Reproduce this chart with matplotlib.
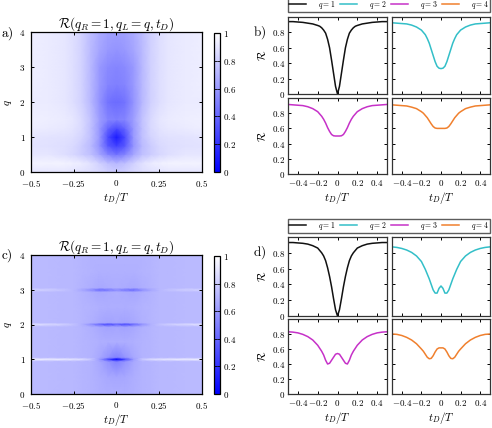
import numpy as np
import matplotlib
matplotlib.use("Agg")
import matplotlib.pyplot as plt
from matplotlib.colors import LinearSegmentedColormap

# ---------------------------------------------------------------------------- #
# DATA

# heatmap grids (t_D/T columns, q rows)
t_map = [-0.5, -0.4, -0.3, -0.25, -0.2, -0.15, -0.1, -0.05, 0.0,
         0.05, 0.1, 0.15, 0.2, 0.25, 0.3, 0.4, 0.5]

q_map_a = [0.0, 0.25, 0.5, 0.75, 1.0, 1.25, 1.5, 2.0, 2.5, 3.0, 3.5, 4.0]
R_map_a = [
    [0.90, 0.90, 0.90, 0.89, 0.88, 0.87, 0.85, 0.82, 0.80, 0.82, 0.85, 0.87, 0.88, 0.89, 0.90, 0.90, 0.90],
    [0.95, 0.95, 0.95, 0.94, 0.92, 0.88, 0.82, 0.75, 0.72, 0.75, 0.82, 0.88, 0.92, 0.94, 0.95, 0.95, 0.95],
    [0.90, 0.90, 0.87, 0.84, 0.80, 0.75, 0.65, 0.52, 0.45, 0.52, 0.65, 0.75, 0.80, 0.84, 0.87, 0.90, 0.90],
    [0.89, 0.88, 0.87, 0.85, 0.80, 0.73, 0.58, 0.35, 0.25, 0.35, 0.58, 0.73, 0.80, 0.85, 0.87, 0.88, 0.89],
    [0.90, 0.89, 0.88, 0.87, 0.83, 0.75, 0.60, 0.30, 0.10, 0.30, 0.60, 0.75, 0.83, 0.87, 0.88, 0.89, 0.90],
    [0.93, 0.92, 0.91, 0.89, 0.85, 0.75, 0.60, 0.40, 0.30, 0.40, 0.60, 0.75, 0.85, 0.89, 0.91, 0.92, 0.93],
    [0.94, 0.93, 0.92, 0.90, 0.85, 0.76, 0.62, 0.52, 0.50, 0.52, 0.62, 0.76, 0.85, 0.90, 0.92, 0.93, 0.94],
    [0.92, 0.92, 0.90, 0.87, 0.82, 0.72, 0.58, 0.45, 0.42, 0.45, 0.58, 0.72, 0.82, 0.87, 0.90, 0.92, 0.92],
    [0.93, 0.92, 0.90, 0.87, 0.82, 0.72, 0.60, 0.52, 0.50, 0.52, 0.60, 0.72, 0.82, 0.87, 0.90, 0.92, 0.93],
    [0.93, 0.92, 0.90, 0.87, 0.82, 0.72, 0.60, 0.54, 0.52, 0.54, 0.60, 0.72, 0.82, 0.87, 0.90, 0.92, 0.93],
    [0.93, 0.92, 0.90, 0.87, 0.82, 0.73, 0.65, 0.60, 0.58, 0.60, 0.65, 0.73, 0.82, 0.87, 0.90, 0.92, 0.93],
    [0.93, 0.92, 0.90, 0.87, 0.82, 0.74, 0.67, 0.63, 0.62, 0.63, 0.67, 0.74, 0.82, 0.87, 0.90, 0.92, 0.93],
]

q_map_c = [0.0, 0.5, 0.94, 1.0, 1.06, 1.5, 1.94, 2.0, 2.06, 2.5, 2.94, 3.0, 3.06, 3.5, 4.0]
R_map_c = [
    [0.73, 0.73, 0.72, 0.72, 0.71, 0.70, 0.69, 0.68, 0.68, 0.68, 0.69, 0.70, 0.71, 0.72, 0.72, 0.73, 0.73],
    [0.73, 0.73, 0.72, 0.72, 0.71, 0.70, 0.68, 0.66, 0.65, 0.66, 0.68, 0.70, 0.71, 0.72, 0.72, 0.73, 0.73],
    [0.73, 0.73, 0.72, 0.72, 0.71, 0.70, 0.66, 0.58, 0.50, 0.58, 0.66, 0.70, 0.71, 0.72, 0.72, 0.73, 0.73],
    [0.93, 0.925, 0.91, 0.89, 0.86, 0.78, 0.61, 0.30, 0.00, 0.30, 0.61, 0.78, 0.86, 0.89, 0.91, 0.925, 0.93],
    [0.73, 0.73, 0.72, 0.72, 0.71, 0.70, 0.66, 0.58, 0.50, 0.58, 0.66, 0.70, 0.71, 0.72, 0.72, 0.73, 0.73],
    [0.73, 0.73, 0.72, 0.72, 0.71, 0.70, 0.69, 0.68, 0.68, 0.68, 0.69, 0.70, 0.71, 0.72, 0.72, 0.73, 0.73],
    [0.73, 0.73, 0.72, 0.72, 0.71, 0.69, 0.66, 0.64, 0.65, 0.64, 0.66, 0.69, 0.71, 0.72, 0.72, 0.73, 0.73],
    [0.875, 0.855, 0.805, 0.76, 0.69, 0.56, 0.40, 0.28, 0.38, 0.28, 0.40, 0.56, 0.69, 0.76, 0.805, 0.855, 0.875],
    [0.73, 0.73, 0.72, 0.72, 0.71, 0.69, 0.66, 0.64, 0.65, 0.64, 0.66, 0.69, 0.71, 0.72, 0.72, 0.73, 0.73],
    [0.73, 0.73, 0.72, 0.72, 0.71, 0.70, 0.69, 0.68, 0.68, 0.68, 0.69, 0.70, 0.71, 0.72, 0.72, 0.73, 0.73],
    [0.73, 0.73, 0.72, 0.72, 0.70, 0.68, 0.66, 0.67, 0.68, 0.67, 0.66, 0.68, 0.70, 0.72, 0.72, 0.73, 0.73],
    [0.83, 0.815, 0.765, 0.72, 0.65, 0.55, 0.40, 0.45, 0.54, 0.45, 0.40, 0.55, 0.65, 0.72, 0.765, 0.815, 0.83],
    [0.73, 0.73, 0.72, 0.72, 0.70, 0.68, 0.66, 0.67, 0.68, 0.67, 0.66, 0.68, 0.70, 0.72, 0.72, 0.73, 0.73],
    [0.73, 0.73, 0.72, 0.72, 0.71, 0.70, 0.69, 0.69, 0.69, 0.69, 0.69, 0.70, 0.71, 0.72, 0.72, 0.73, 0.73],
    [0.73, 0.73, 0.72, 0.72, 0.71, 0.70, 0.70, 0.70, 0.70, 0.70, 0.70, 0.70, 0.71, 0.72, 0.72, 0.73, 0.73],
]

# line cuts, t_D/T
t_line = [-0.5, -0.45, -0.4, -0.35, -0.3, -0.25, -0.2, -0.18, -0.16, -0.14, -0.12,
          -0.1, -0.08, -0.06, -0.04, -0.02, 0.0, 0.02, 0.04, 0.06, 0.08, 0.1,
          0.12, 0.14, 0.16, 0.18, 0.2, 0.25, 0.3, 0.35, 0.4, 0.45, 0.5]

# panel b)
R_b_q1 = [0.94, 0.94, 0.935, 0.93, 0.92, 0.91, 0.89, 0.88, 0.86, 0.83, 0.79, 0.71, 0.60, 0.44, 0.27, 0.10, 0.0,
          0.10, 0.27, 0.44, 0.60, 0.71, 0.79, 0.83, 0.86, 0.88, 0.89, 0.91, 0.92, 0.93, 0.935, 0.94, 0.94]
R_b_q2 = [0.925, 0.92, 0.915, 0.91, 0.895, 0.87, 0.83, 0.80, 0.77, 0.72, 0.66, 0.58, 0.50, 0.42, 0.36, 0.335, 0.33,
          0.335, 0.36, 0.42, 0.50, 0.58, 0.66, 0.72, 0.77, 0.80, 0.83, 0.87, 0.895, 0.91, 0.915, 0.92, 0.925]
R_b_q3 = [0.915, 0.91, 0.905, 0.90, 0.885, 0.86, 0.82, 0.79, 0.76, 0.72, 0.67, 0.61, 0.56, 0.52, 0.503, 0.50, 0.50,
          0.50, 0.503, 0.52, 0.56, 0.61, 0.67, 0.72, 0.76, 0.79, 0.82, 0.86, 0.885, 0.90, 0.905, 0.91, 0.915]
R_b_q4 = [0.91, 0.905, 0.90, 0.895, 0.88, 0.86, 0.82, 0.80, 0.77, 0.74, 0.70, 0.66, 0.625, 0.605, 0.60, 0.60, 0.60,
          0.60, 0.60, 0.605, 0.625, 0.66, 0.70, 0.74, 0.77, 0.80, 0.82, 0.86, 0.88, 0.895, 0.90, 0.905, 0.91]

# panel d)
R_d_q1 = [0.93, 0.93, 0.925, 0.92, 0.91, 0.89, 0.86, 0.83, 0.80, 0.76, 0.70, 0.61, 0.50, 0.37, 0.22, 0.08, 0.0,
          0.08, 0.22, 0.37, 0.50, 0.61, 0.70, 0.76, 0.80, 0.83, 0.86, 0.89, 0.91, 0.92, 0.925, 0.93, 0.93]
R_d_q2 = [0.875, 0.868, 0.855, 0.835, 0.805, 0.76, 0.69, 0.64, 0.59, 0.53, 0.47, 0.40, 0.33, 0.29, 0.29, 0.35, 0.38,
          0.35, 0.29, 0.29, 0.33, 0.40, 0.47, 0.53, 0.59, 0.64, 0.69, 0.76, 0.805, 0.835, 0.855, 0.868, 0.875]
R_d_q3 = [0.83, 0.825, 0.815, 0.795, 0.765, 0.72, 0.65, 0.61, 0.57, 0.52, 0.45, 0.40, 0.41, 0.45, 0.49, 0.53, 0.54,
          0.53, 0.49, 0.45, 0.41, 0.40, 0.45, 0.52, 0.57, 0.61, 0.65, 0.72, 0.765, 0.795, 0.815, 0.825, 0.83]
R_d_q4 = [0.80, 0.795, 0.78, 0.755, 0.72, 0.67, 0.60, 0.57, 0.53, 0.49, 0.47, 0.475, 0.51, 0.56, 0.60, 0.615, 0.615,
          0.615, 0.60, 0.56, 0.51, 0.475, 0.47, 0.49, 0.53, 0.57, 0.60, 0.67, 0.72, 0.755, 0.78, 0.795, 0.80]

q_labels = ["$q=1$", "$q=2$", "$q=3$", "$q=4$"]
line_colors = ["#111111", "#33bfc8", "#c631c8", "#f0802e"]

# ---------------------------------------------------------------------------- #
# STYLE

plt.rcParams["mathtext.fontset"] = "cm"
plt.rcParams["font.family"] = "serif"
plt.rcParams["axes.linewidth"] = 0.9

W, H = 492, 428
fig = plt.figure(figsize=(W / 100, H / 100), dpi=100)
cmap = LinearSegmentedColormap.from_list("bw", ["#0000ff", "#ffffff"])


def rect(x0, y0, x1, y1):
    # pixel box (top-left origin) -> figure fractions
    return [x0 / W, 1 - y1 / H, (x1 - x0) / W, (y1 - y0) / H]


def heatmap(box, cbox, Z, q_rows, letter, letter_y):
    ax = fig.add_axes(rect(*box))
    mesh = ax.pcolormesh(t_map, q_rows, np.array(Z), shading="gouraud",
                         cmap=cmap, vmin=0, vmax=1)
    ax.set_xlim(-0.5, 0.5)
    ax.set_ylim(0, 4)
    ax.set_xticks([-0.5, -0.25, 0, 0.25, 0.5])
    ax.set_xticklabels(["$-0.5$", "$-0.25$", "$0$", "$0.25$", "$0.5$"], fontsize=6.5)
    ax.set_yticks([0, 1, 2, 3, 4])
    ax.set_yticklabels(["$0$", "$1$", "$2$", "$3$", "$4$"], fontsize=6.5)
    ax.tick_params(direction="in", top=True, right=True, length=2.5, width=0.7)
    ax.tick_params(axis="x", pad=4)
    ax.tick_params(axis="y", pad=4)
    ax.set_xlabel("$t_D/T$", fontsize=8, labelpad=1)
    ax.set_ylabel("$q$", fontsize=8, labelpad=4)
    ax.set_title(r"$\mathcal{R}(q_R=1, q_L=q, t_D)$", fontsize=9.5, pad=3)
    fig.text(1 / W, 1 - letter_y / H, letter, fontsize=9.5, va="center")

    cax = fig.add_axes(rect(*cbox))
    cb = fig.colorbar(mesh, cax=cax, ticks=[0, 0.2, 0.4, 0.6, 0.8, 1])
    cb.outline.set_linewidth(0.9)
    cax.set_yticklabels(["$0$", "$0.2$", "$0.4$", "$0.6$", "$0.8$", "$1$"], fontsize=6.5)
    cax.tick_params(direction="in", left=True, right=True, length=2, width=0.6, pad=2)


def cuts(curves, top, bottom, leg_box, letter, letter_y):
    xs = [(288, 387), (392, 490)]
    ys = [top, bottom]
    handles = []
    for k, R in enumerate(curves):
        r, c = divmod(k, 2)
        ax = fig.add_axes(rect(xs[c][0], ys[r][0], xs[c][1], ys[r][1]))
        h, = ax.plot(t_line, R, color=line_colors[k], lw=1.1)
        handles.append(h)
        ax.set_xlim(-0.5, 0.5)
        ax.set_ylim(0, 1.0)
        ax.set_xticks([-0.4, -0.2, 0, 0.2, 0.4])
        ax.set_yticks([0, 0.2, 0.4, 0.6, 0.8])
        ax.tick_params(direction="in", top=True, right=True, length=2.5, width=0.7, pad=2)
        for s in ax.spines.values():
            s.set_color("#333333")
        if r == 1:
            ax.set_xticklabels(["$-0.4$", "$-0.2$", "$0$", "$0.2$", "$0.4$"], fontsize=6.5)
            ax.tick_params(axis="x", pad=3)
            ax.set_xlabel("$t_D/T$", fontsize=8, labelpad=1)
        else:
            ax.set_xticklabels([])
        if c == 0:
            ax.set_yticklabels(["$0$", "$0.2$", "$0.4$", "$0.6$", "$0.8$"], fontsize=6.5)
            ax.set_ylabel(r"$\mathcal{R}$", fontsize=8, labelpad=3)
        else:
            ax.set_yticklabels([])
    leg = fig.legend(handles, q_labels, loc="lower left",
                     bbox_to_anchor=rect(*leg_box), mode="expand", ncol=4,
                     fontsize=5.5, frameon=True, fancybox=False, edgecolor="#333333",
                     handlelength=2.2, borderpad=0.12, borderaxespad=0, columnspacing=1.0,
                     handletextpad=1.6)
    leg.get_frame().set_linewidth(1.0)
    fig.text(253 / W, 1 - letter_y / H, letter, fontsize=9.5, va="center")


# ---------------------------------------------------------------------------- #
# PANELS

heatmap((31, 32, 202, 172), (214, 33, 220, 172), R_map_a, q_map_a, r"$\mathrm{a)}$", 34)
heatmap((31, 255, 202, 394), (214, 256, 220, 394), R_map_c, q_map_c, r"$\mathrm{c)}$", 256)

cuts([R_b_q1, R_b_q2, R_b_q3, R_b_q4], (17, 94), (98, 174),
     (288, 1, 490, 12), r"$\mathrm{b)}$", 33)
cuts([R_d_q1, R_d_q2, R_d_q3, R_d_q4], (237, 316), (319, 394),
     (288, 222, 490, 233), r"$\mathrm{d)}$", 253)

fig.savefig("out.png", dpi=100)
